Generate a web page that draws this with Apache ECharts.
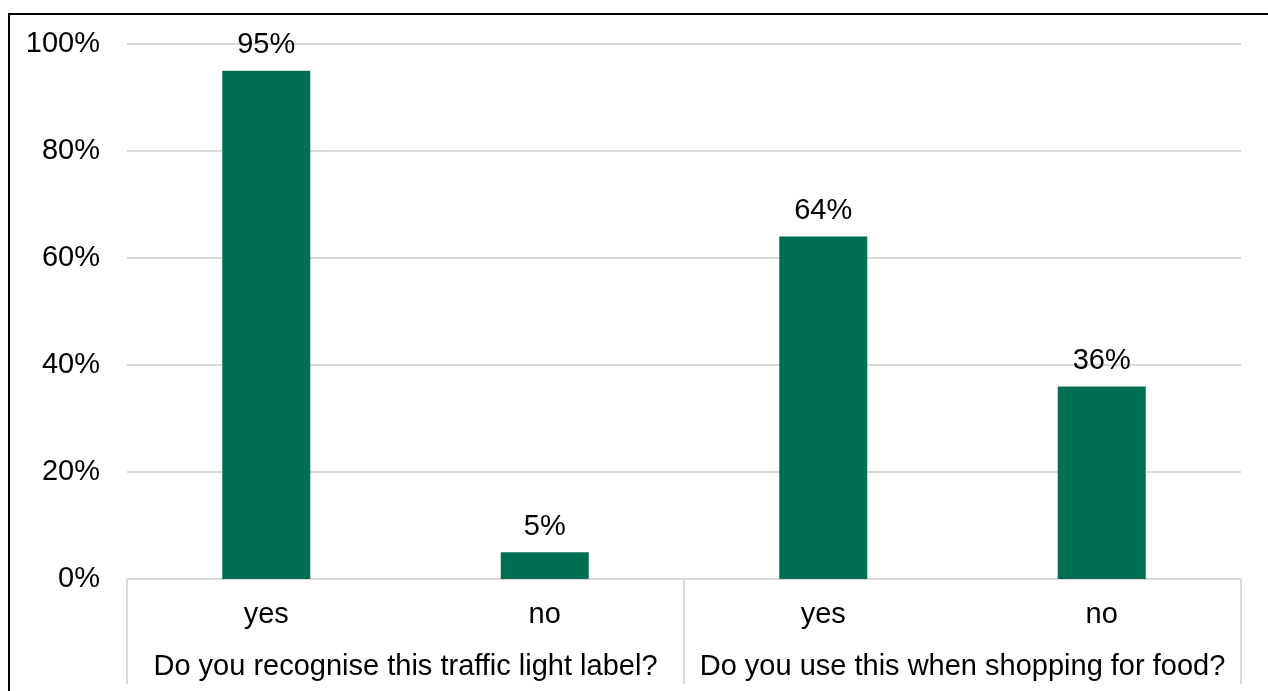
<!DOCTYPE html>
<html>
<head>
<meta charset="utf-8">
<script src="https://cdn.jsdelivr.net/npm/echarts@6/dist/echarts.min.js"></script>
<style>
  html, body { margin: 0; padding: 0; background: #fff; }
  #main { width: 1268px; height: 691px; }
</style>
</head>
<body>
<div id="main"></div>
<script>
// answers (inner axis) and questions (outer axis)
const answers = ['yes', 'no', 'yes', 'no'];
const questions = ['Do you recognise this traffic light label?', 'Do you use this when shopping for food?'];
const shares = [95, 5, 64, 36];
const yTicks = [0, 20, 40, 60, 80, 100];

const font = "'Liberation Sans', Arial, sans-serif";
const gridColor = '#d9d9d9';

const chart = echarts.init(document.getElementById('main'));

const option = {
  animation: false,
  textStyle: { fontFamily: font },
  grid: { left: 127, right: 27, top: 44, bottom: 112 },
  graphic: [{
    type: 'rect',
    shape: { x: 9, y: 14, width: 1400, height: 800 },
    style: { fill: 'none', stroke: '#000', lineWidth: 2 },
    silent: true
  }],
  xAxis: [
    {
      type: 'category',
      data: answers,
      position: 'bottom',
      axisLine: { lineStyle: { color: gridColor, width: 2 } },
      axisTick: { show: false },
      axisLabel: { color: '#000', fontSize: 29, fontFamily: font, margin: 21, interval: 0 }
    },
    {
      type: 'category',
      data: questions,
      position: 'bottom',
      offset: 0,
      axisLine: { show: false },
      axisTick: { show: true, length: 105, lineStyle: { color: gridColor, width: 2 } },
      axisLabel: { color: '#000', fontSize: 29, fontFamily: font, margin: 73, interval: 0 }
    }
  ],
  yAxis: {
    type: 'value',
    min: yTicks[0],
    max: yTicks[yTicks.length - 1],
    interval: 20,
    axisLine: { show: false },
    axisTick: { show: false },
    splitLine: { lineStyle: { color: gridColor, width: 2 } },
    axisLabel: { color: '#000', fontSize: 29, fontFamily: font, margin: 27, formatter: '{value}%' }
  },
  series: [{
    type: 'bar',
    xAxisIndex: 0,
    data: shares,
    barWidth: '31.6%',
    itemStyle: { color: '#006f51' },
    label: {
      show: true,
      position: 'top',
      distance: 11,
      color: '#000',
      fontSize: 29,
      fontFamily: font,
      formatter: '{c}%'
    }
  }]
};

chart.setOption(option);
</script>
</body>
</html>
